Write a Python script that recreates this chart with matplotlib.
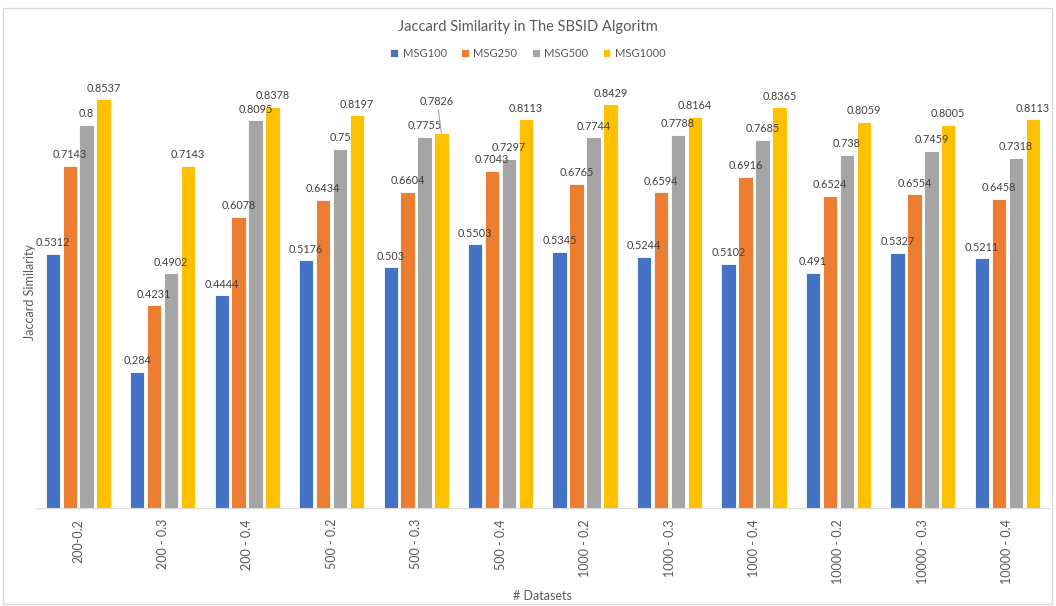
import numpy as np
import matplotlib.pyplot as plt
from matplotlib.patches import Rectangle

plt.rcParams['font.family'] = ['Lato', 'DejaVu Sans']

datasets = ["200-0.2", "200 - 0.3", "200 - 0.4", "500 - 0.2", "500 - 0.3", "500 - 0.4",
            "1000 - 0.2", "1000 - 0.3", "1000 - 0.4", "10000 - 0.2", "10000 - 0.3", "10000 - 0.4"]
series = ["MSG100", "MSG250", "MSG500", "MSG1000"]
msg100 = [0.5312, 0.284, 0.4444, 0.5176, 0.503, 0.5503, 0.5345, 0.5244, 0.5102, 0.491, 0.5327, 0.5211]
msg250 = [0.7143, 0.4231, 0.6078, 0.6434, 0.6604, 0.7043, 0.6765, 0.6594, 0.6916, 0.6524, 0.6554, 0.6458]
msg500 = [0.8, 0.4902, 0.8095, 0.75, 0.7755, 0.7297, 0.7744, 0.7788, 0.7685, 0.738, 0.7459, 0.7318]
msg1000 = [0.8537, 0.7143, 0.8378, 0.8197, 0.7826, 0.8113, 0.8429, 0.8164, 0.8365, 0.8059, 0.8005, 0.8113]
colors = ["#4472C4", "#ED7D31", "#A5A5A5", "#FFC000"]

fig = plt.figure(figsize=(10.56, 6.06), dpi=100)
ax = fig.add_axes([0.034, 0.1617, 0.96, 0.7113])

x = np.arange(len(datasets))
allvals = [msg100, msg250, msg500, msg1000]
for i, vals in enumerate(allvals):
    pos = x + 0.2 * (i - 1.5)
    ax.bar(pos, vals, width=0.17, color=colors[i], label=series[i],
           edgecolor="white", linewidth=0.6)
    for j, v in enumerate(vals):
        txt = ("%.4f" % v).rstrip("0").rstrip(".")
        if i == 3 and j == 4:
            # label pushed up with a leader line, like the original
            ax.annotate(txt, xy=(pos[j], v), xytext=(pos[j] - 0.05, v + 0.055),
                        ha="center", va="bottom", fontsize=7.8, color="#404040",
                        arrowprops=dict(arrowstyle="-", color="#a6a6a6", lw=0.8,
                                        shrinkA=0, shrinkB=0))
        else:
            ax.annotate(txt, xy=(pos[j], v), xytext=(0, 4), textcoords="offset points",
                        ha="center", va="bottom", fontsize=7.8, color="#404040")

ax.set_xlim(-0.5, len(datasets) - 0.5)
ax.set_ylim(0, 0.9)
ax.set_xticks(x)
ax.set_xticklabels(datasets, rotation=90, fontsize=9, color="#595959")
ax.tick_params(axis="x", length=0, pad=8)
ax.set_yticks([])
for s in ["top", "right", "left"]:
    ax.spines[s].set_visible(False)
ax.spines["bottom"].set_color("#d9d9d9")

ax.set_xlabel("# Datasets", fontsize=9, color="#595959", labelpad=4)
ax.set_ylabel("Jaccard Similarity", fontsize=9, color="#595959", labelpad=0)
fig.text(0.5, 0.955, "Jaccard Similarity in The SBSID Algoritm", ha="center", va="center",
         fontsize=10.5, color="#595959")
fig.legend(loc="center", bbox_to_anchor=(0.5, 0.912), ncol=4, frameon=False, fontsize=8,
           handlelength=0.7, handleheight=0.7, handletextpad=0.4, columnspacing=1.3,
           labelcolor="#595959")

fig.patches.append(Rectangle((0.003, 0.004), 0.993, 0.982, transform=fig.transFigure,
                             fill=False, edgecolor="#d9d9d9", linewidth=1))

fig.savefig("out.png", dpi=100)
